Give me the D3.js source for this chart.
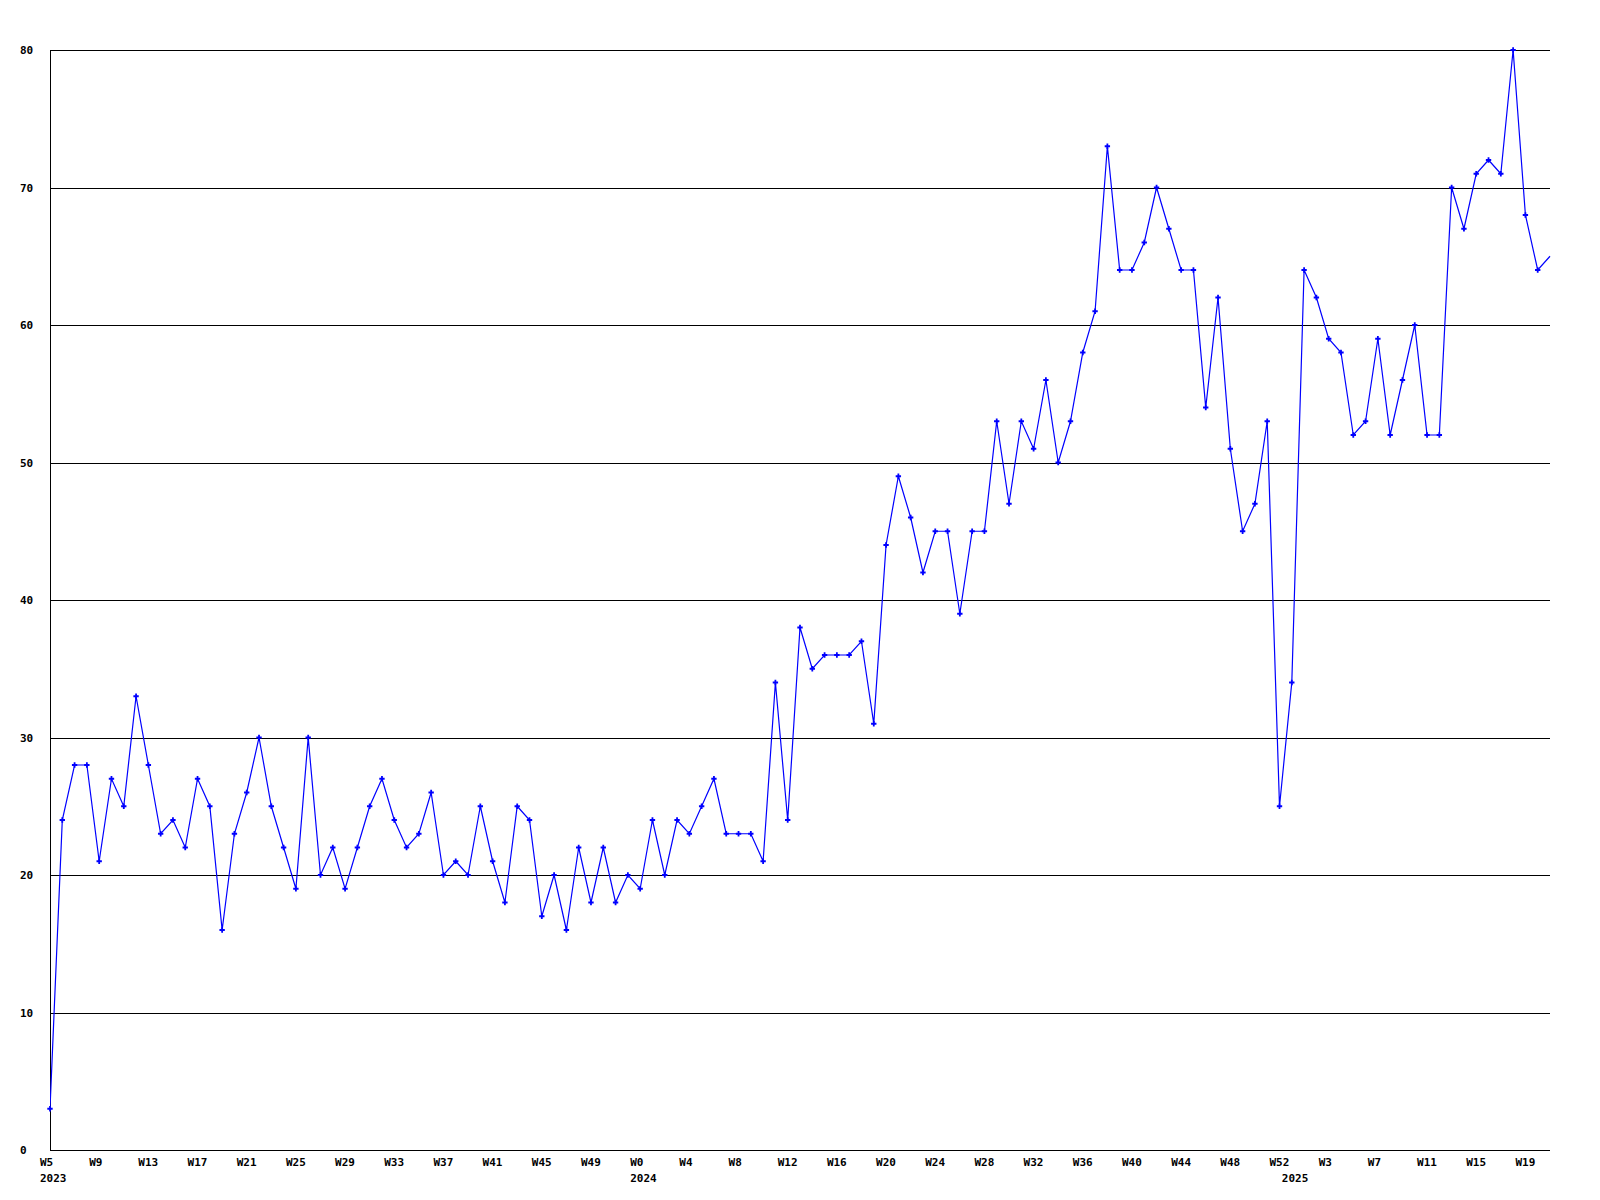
<!DOCTYPE html>
<html>
<head>
<meta charset="utf-8">
<script src="https://cdn.jsdelivr.net/npm/d3@7"></script>
<style>
  html, body { margin: 0; padding: 0; background: #fff; }
  svg { display: block; }
  text { font-family: "DejaVu Sans Mono", "Liberation Mono", monospace; font-weight: bold; font-size: 11px; fill: #000; }
</style>
</head>
<body>
<svg id="chart" width="1600" height="1200"></svg>
<script>
// ---- data ----
const weeks2023 = [5,6,7,8,9,10,11,12,13,14,15,16,17,18,19,20,21,22,23,24,25,26,27,28,29,30,31,32,33,34,35,36,37,38,39,40,41,42,43,44,45,46,47,48,49,50,51,52];
const weeks2024 = [0,1,2,3,4,5,6,7,8,9,10,11,12,13,14,15,16,17,18,19,20,21,22,23,24,25,26,27,28,29,30,31,32,33,34,35,36,37,38,39,40,41,42,43,44,45,46,47,48,49,50,51,52];
const weeks2025 = [0,1,2,3,4,5,6,7,8,9,10,11,12,13,14,15,16,17,18,19,20,21];

const values2023 = [3,24,28,28,21,27,25,33,28,23,24,22,27,25,16,23,26,30,25,22,19,30,20,22,19,22,25,27,24,22,23,26,20,21,20,25,21,18,25,24,17,20,16,22,18,22,18,20];
const values2024 = [19,24,20,24,23,25,27,23,23,23,21,34,24,38,35,36,36,36,37,31,44,49,46,42,45,45,39,45,45,53,47,53,51,56,50,53,58,61,73,64,64,66,70,67,64,64,54,62,51,45,47,53,25];
const values2025 = [34,64,62,59,58,52,53,59,52,56,60,52,52,70,67,71,72,71,80,68,64,65];

const yTicks = [0,10,20,30,40,50,60,70,80];
const labelEvery = 4;

(function () {
  // ---- build table ----
  const rows = [];
  [[2023, weeks2023, values2023], [2024, weeks2024, values2024], [2025, weeks2025, values2025]].forEach(([yr, wk, vals]) => {
    wk.forEach((w, i) => rows.push({ key: yr + "-W" + w, year: yr, week: w, value: vals[i], first: i === 0 }));
  });

  const svg = d3.select("#chart");
  const pLeft = 50, pRight = 1550, pTop = 50, pBottom = 1150;

  const x = d3.scalePoint().domain(rows.map(d => d.key)).range([pLeft, pRight]);
  const y = d3.scaleLinear().domain([0, 80]).range([pBottom, pTop]);

  // gridlines
  svg.append("g").selectAll("line").data(yTicks).join("line")
    .attr("x1", pLeft).attr("x2", pRight)
    .attr("y1", d => Math.round(y(d)) + 0.5).attr("y2", d => Math.round(y(d)) + 0.5)
    .attr("stroke", "#000").attr("stroke-width", 1).attr("shape-rendering", "crispEdges");

  // left axis line
  svg.append("line")
    .attr("x1", pLeft + 0.5).attr("x2", pLeft + 0.5).attr("y1", pTop).attr("y2", pBottom + 1)
    .attr("stroke", "#000").attr("shape-rendering", "crispEdges");

  // y labels
  svg.append("g").selectAll("text").data(yTicks).join("text")
    .attr("x", 20).attr("y", d => y(d) + 4)
    .text(d => d);

  // x labels
  const labelled = rows.filter((d, i) => i % labelEvery === 0);
  svg.append("g").selectAll("text").data(labelled).join("text")
    .attr("x", d => x(d.key) - 10).attr("y", 1166)
    .text(d => "W" + d.week);

  svg.append("g").selectAll("text").data(rows.filter(d => d.first)).join("text")
    .attr("x", d => x(d.key) - 10).attr("y", 1182)
    .text(d => d.year);

  // clip
  svg.append("clipPath").attr("id", "clipLine").append("rect")
    .attr("x", pLeft).attr("y", 0).attr("width", pRight - pLeft + 1).attr("height", 1200);
  svg.append("clipPath").attr("id", "clipMarks").append("rect")
    .attr("x", 0).attr("y", 0).attr("width", pRight - 4).attr("height", 1200);

  // line
  const line = d3.line().x(d => x(d.key)).y(d => y(d.value));
  svg.append("path").datum(rows)
    .attr("d", line)
    .attr("fill", "none").attr("stroke", "#0000ff").attr("stroke-width", 1.2)
    .attr("clip-path", "url(#clipLine)");

  // markers
  svg.append("g").attr("clip-path", "url(#clipMarks)")
    .selectAll("path").data(rows).join("path")
    .attr("transform", d => `translate(${x(d.key)},${y(d.value)})`)
    .attr("d", d3.symbol().type(d3.symbolCross).size(16))
    .attr("fill", "#0000ff");
})();
</script>
</body>
</html>
